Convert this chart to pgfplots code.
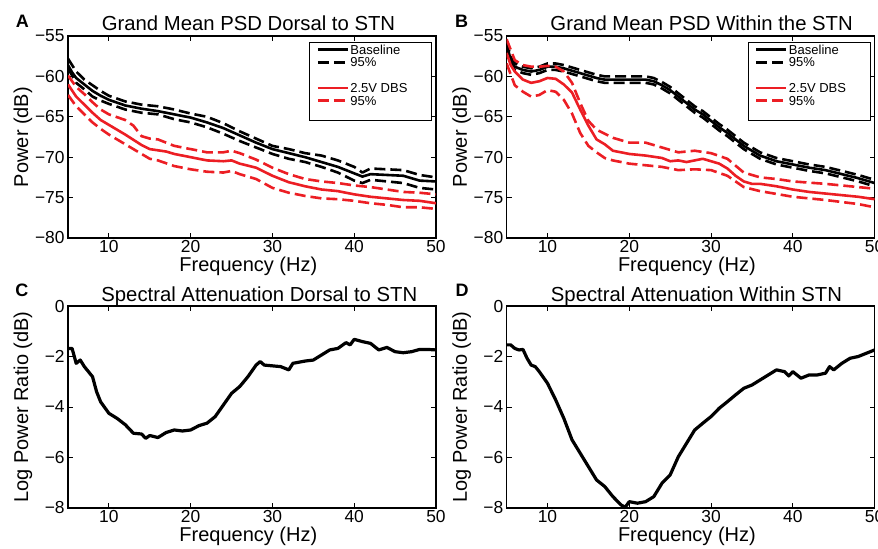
\documentclass[border=0pt]{standalone}
\usepackage{pgfplots}
\pgfplotsset{compat=1.18}
\usepackage{fontspec}
\setmainfont{Liberation Sans}
\definecolor{mred}{RGB}{236,30,36}
\pgfplotsset{
  base/.style={
    scale only axis, width=184pt, height=101pt,
    xmin=5, xmax=50, xtick={10,20,30,40,50},
    tick align=inside, major tick length=2.5pt,
    axis line style={line width=0.7pt},
    every tick/.style={black, line width=0.5pt},
    tick label style={font=\fontsize{8.7}{9}\selectfont},
    xticklabel style={inner sep=1pt},
    yticklabel style={inner sep=1.5pt},
    /pgf/number format/assume math mode=true,
    label style={font=\fontsize{10}{12}\selectfont},
    title style={font=\fontsize{10.15}{12}\selectfont},
    every axis title shift=0pt,
    xlabel={Frequency (Hz)},
    every axis x label/.style={at={(axis description cs:0.49,-0.1683)}, anchor=base},
    every axis y label/.style={at={(axis description cs:-0.1223,0.5)}, anchor=center, rotate=90},
  },
  psd/.style={base,
    ymin=-80, ymax=-55, ytick={-80,-75,-70,-65,-60,-55},
    yticklabels={−80,−75,−70,−65,−60,−55},
    ylabel={Power (dB)},
    legend cell align=left,
    legend image code/.code={\draw[##1, line width=1.3pt] (0pt,0pt) -- (15pt,0pt);},
    legend style={at={(axis description cs:1,1)}, anchor=north east, xshift=-2pt, yshift=-3pt,
      draw=black, fill=white, inner xsep=3.5pt, inner ysep=0.4pt,
      font=\fontsize{6.5}{6.5}\selectfont, row sep=0pt,
      nodes={inner sep=0.6pt, text height=4.9pt, text depth=0.3pt}},
  },
  att/.style={base,
    ymin=-8, ymax=0, ytick={-8,-6,-4,-2,0},
    yticklabels={−8,−6,−4,−2,0},
    ylabel={Log Power Ratio (dB)},
  },
  sol/.style={line width=1.3pt, line join=round},
  das/.style={line width=1.3pt, line join=round, dash pattern=on 5.5pt off 2.5pt},
}
\newcommand{\LE}[1]{\addlegendentry{\makebox[36.5pt][l]{#1}}}
\begin{document}
\begin{tikzpicture}
% ---------------- A ----------------
\begin{axis}[psd, at={(34pt,155.5pt)}, anchor=south west,
  title={Grand Mean PSD Dorsal to STN},
  title style={at={(axis description cs:0.4905,1.0248)}, anchor=base}]
\addplot[sol, black] coordinates {(5,-58.6)(5.5,-59.5)(6,-60.2)(7,-61.0)(8,-61.8)(9,-62.4)(10,-62.9)(12,-63.6)(14,-64.0)(16,-64.3)(18,-64.7)(20,-65.1)(22,-65.7)(24,-66.4)(26,-67.3)(28,-68.2)(30,-69.0)(32,-69.5)(34,-70.0)(36,-70.6)(38,-71.2)(40,-72.0)(41,-72.4)(42,-72.1)(44,-72.2)(46,-72.3)(48,-72.9)(50,-73.0)};
\LE{Baseline}
\addplot[das, black] coordinates {(5,-57.8)(6,-59.4)(7,-60.4)(8,-61.1)(9,-61.8)(10,-62.4)(12,-63.1)(14,-63.5)(16,-63.7)(18,-64.1)(20,-64.6)(22,-65.0)(24,-65.8)(26,-66.8)(28,-67.7)(30,-68.6)(32,-69.0)(34,-69.5)(36,-69.8)(38,-70.4)(40,-71.2)(41,-71.9)(42,-71.4)(44,-71.5)(46,-71.6)(48,-72.2)(50,-72.5)};
\LE{95\%}
\addplot[das, black, forget plot] coordinates {(5,-59.0)(6,-60.8)(7,-61.6)(8,-62.5)(9,-63.0)(10,-63.4)(12,-64.1)(14,-64.5)(16,-64.7)(18,-65.3)(20,-65.7)(22,-66.3)(24,-67.1)(26,-68.0)(28,-68.8)(30,-69.6)(32,-70.2)(34,-70.6)(36,-71.2)(38,-71.9)(40,-72.9)(41,-73.2)(42,-72.8)(44,-73.0)(46,-73.2)(48,-73.8)(50,-74.0)};
\addlegendimage{empty legend}\addlegendentry{~}
\addplot[sol, mred] coordinates {(5,-61.0)(6,-62.5)(7,-63.5)(8,-64.5)(9,-65.4)(10,-66.0)(12,-67.2)(14,-68.5)(15,-69.0)(17,-69.3)(18,-69.6)(20,-70.0)(22,-70.4)(24,-70.5)(25,-70.4)(26,-70.8)(28,-71.3)(30,-72.3)(32,-73.1)(34,-73.6)(36,-74.0)(38,-74.2)(40,-74.6)(42,-74.9)(44,-75.1)(46,-75.3)(48,-75.4)(50,-75.7)};
\LE{2.5V DBS}
\addplot[das, mred] coordinates {(5,-59.9)(6,-61.3)(7,-62.2)(8,-63.2)(9,-64.1)(10,-64.7)(12,-65.4)(13,-66.1)(14,-67.4)(15,-67.7)(16,-67.8)(18,-68.6)(20,-69.0)(22,-69.4)(24,-69.4)(25,-69.2)(26,-69.5)(28,-70.3)(30,-71.3)(32,-72.1)(34,-72.7)(36,-73.0)(38,-73.2)(40,-73.5)(42,-73.7)(44,-74.0)(46,-74.3)(48,-74.4)(50,-74.6)};
\LE{95\%}
\addplot[das, mred, forget plot] coordinates {(5,-62.3)(6,-63.7)(7,-64.7)(8,-65.7)(9,-66.5)(10,-67.2)(12,-68.4)(14,-69.6)(15,-70.2)(16,-70.4)(18,-71.1)(20,-71.5)(22,-71.8)(24,-71.9)(25,-71.7)(26,-72.1)(28,-72.7)(30,-73.8)(32,-74.4)(34,-74.8)(36,-75.1)(38,-75.2)(40,-75.4)(42,-75.7)(44,-75.9)(46,-76.2)(48,-76.2)(50,-76.4)};
\addplot[white] coordinates {(30,-90)};
\addlegendentry{~}
\end{axis}
% ---------------- B ----------------
\begin{axis}[psd, at={(253.3pt,155.5pt)}, anchor=south west,
  title={Grand Mean PSD Within the STN},
  title style={at={(axis description cs:0.530,1.0248)}, anchor=base}]
\addplot[sol, black] coordinates {(5,-55.9)(5.5,-58.0)(6,-58.8)(7,-59.2)(8,-59.4)(9,-59.2)(10,-58.8)(11,-58.8)(12,-59.0)(13,-59.3)(14,-59.6)(15,-59.9)(16,-60.2)(17,-60.4)(18,-60.4)(20,-60.4)(22,-60.4)(23,-60.6)(24,-61.1)(25,-61.7)(26,-62.5)(27,-63.3)(28,-64.1)(29,-64.7)(30,-65.5)(31,-66.3)(32,-67.0)(33,-67.8)(34,-68.6)(35,-69.2)(36,-69.8)(38,-70.5)(40,-70.9)(42,-71.3)(44,-71.6)(46,-72.1)(48,-72.6)(50,-73.2)};
\LE{Baseline}
\addplot[das, black] coordinates {(5,-55.6)(5.5,-57.6)(6,-58.4)(7,-58.8)(8,-59.0)(9,-58.8)(10,-58.4)(11,-58.4)(12,-58.6)(13,-58.9)(14,-59.2)(15,-59.5)(16,-59.8)(17,-60.0)(18,-60.0)(20,-60.0)(22,-60.0)(23,-60.2)(24,-60.7)(25,-61.3)(26,-62.1)(27,-62.9)(28,-63.7)(29,-64.3)(30,-65.1)(31,-65.9)(32,-66.6)(33,-67.4)(34,-68.2)(35,-68.8)(36,-69.4)(38,-70.1)(40,-70.5)(42,-70.9)(44,-71.2)(46,-71.7)(48,-72.2)(50,-72.8)};
\LE{95\%}
\addplot[das, black, forget plot] coordinates {(5,-56.2)(5.5,-58.4)(6,-59.2)(7,-59.6)(8,-59.8)(9,-59.6)(10,-59.2)(11,-59.2)(12,-59.4)(13,-59.7)(14,-60.0)(15,-60.3)(16,-60.6)(17,-60.8)(18,-60.8)(20,-60.8)(22,-60.8)(23,-61.0)(24,-61.5)(25,-62.1)(26,-62.9)(27,-63.7)(28,-64.5)(29,-65.1)(30,-65.9)(31,-66.7)(32,-67.4)(33,-68.2)(34,-69.0)(35,-69.6)(36,-70.2)(38,-70.9)(40,-71.3)(42,-71.7)(44,-72.0)(46,-72.5)(48,-73.0)(50,-73.6)};
\addlegendimage{empty legend}\addlegendentry{~}
\addplot[sol, mred] coordinates {(5,-57.1)(5.5,-58.6)(6,-59.4)(7,-60.4)(8,-60.8)(9,-60.6)(10,-60.2)(11,-60.3)(12,-61.0)(13,-62.0)(14,-64.1)(15,-66.1)(16,-67.8)(17,-68.4)(18,-69.2)(20,-69.6)(22,-69.8)(24,-70.1)(25,-70.5)(26,-70.4)(27,-70.6)(28,-70.4)(29,-70.2)(30,-70.5)(31,-70.8)(32,-71.4)(33,-72.3)(34,-73.0)(35,-73.3)(36,-73.3)(38,-73.6)(40,-74.0)(42,-74.3)(44,-74.5)(46,-74.7)(48,-74.9)(50,-75.2)};
\LE{2.5V DBS}
\addplot[das, mred] coordinates {(5,-55.4)(6,-58.0)(7,-58.6)(8,-58.8)(9,-58.8)(10,-58.7)(11,-58.8)(12,-59.4)(13,-60.8)(14,-63.3)(15,-65.5)(16,-66.6)(17,-67.1)(18,-67.6)(20,-68.2)(22,-68.2)(24,-68.8)(26,-69.4)(28,-69.2)(30,-69.5)(32,-70.2)(34,-71.9)(36,-72.5)(38,-72.7)(40,-73.0)(44,-73.3)(48,-73.7)(50,-73.9)};
\LE{95\%}
\addplot[das, mred, forget plot] coordinates {(5,-58.4)(6,-61.1)(7,-61.9)(8,-62.5)(9,-62.3)(10,-61.7)(11,-61.9)(12,-62.9)(13,-64.6)(14,-67.0)(15,-68.6)(16,-69.4)(17,-70.1)(18,-70.4)(20,-70.8)(22,-71.0)(24,-71.2)(26,-71.6)(28,-71.5)(30,-71.6)(32,-72.3)(34,-73.7)(36,-74.2)(40,-74.9)(44,-75.3)(48,-75.8)(50,-76.2)};
\addplot[white] coordinates {(30,-90)};
\addlegendentry{~}
\end{axis}
% ---------------- C ----------------
\begin{axis}[att, at={(34pt,20.5pt)}, anchor=south west,
  title={Spectral Attenuation Dorsal to STN},
  title style={at={(axis description cs:0.520,1.0248)}, anchor=base}]
\addplot[line width=1.6pt, line join=round, black] coordinates {(5,-1.68)(5.5,-1.68)(6,-2.27)(6.5,-2.14)(7,-2.4)(8,-2.8)(8.5,-3.4)(9,-3.8)(10,-4.25)(11,-4.45)(12,-4.7)(13,-5.04)(14,-5.07)(14.5,-5.24)(15,-5.13)(16,-5.21)(17,-5.01)(18,-4.91)(19,-4.95)(20,-4.91)(21,-4.74)(22,-4.64)(23,-4.38)(24,-3.92)(25,-3.46)(26,-3.19)(27,-2.8)(28,-2.34)(28.5,-2.2)(29,-2.34)(30,-2.37)(31,-2.4)(32,-2.53)(32.5,-2.27)(34,-2.18)(35,-2.14)(36,-1.94)(37,-1.74)(38,-1.68)(39,-1.45)(39.5,-1.54)(40,-1.32)(41,-1.41)(42,-1.48)(43,-1.74)(44,-1.64)(45,-1.81)(46,-1.85)(47,-1.81)(48,-1.72)(49,-1.72)(50,-1.74)};
\end{axis}
% ---------------- D ----------------
\begin{axis}[att, at={(253.3pt,20.5pt)}, anchor=south west,
  title={Spectral Attenuation Within STN},
  title style={at={(axis description cs:0.516,1.0248)}, anchor=base}]
\addplot[line width=1.6pt, line join=round, black] coordinates {(5,-1.54)(5.5,-1.54)(6,-1.68)(6.5,-1.74)(7,-1.72)(7.5,-2.07)(8,-2.34)(8.5,-2.4)(9,-2.6)(10,-3.06)(11,-3.72)(12,-4.45)(13,-5.3)(14,-5.83)(15,-6.36)(16,-6.89)(17,-7.15)(18,-7.55)(19,-7.88)(19.5,-7.97)(20,-7.75)(21,-7.81)(22,-7.75)(23,-7.55)(24,-7.02)(25,-6.69)(26,-5.97)(27,-5.44)(28,-4.91)(29,-4.64)(30,-4.38)(31,-4.05)(32,-3.79)(33,-3.52)(34,-3.26)(35,-3.13)(36,-2.93)(37,-2.73)(38,-2.53)(39,-2.6)(39.5,-2.77)(40,-2.6)(41,-2.86)(42,-2.73)(43,-2.73)(44,-2.66)(44.5,-2.4)(45,-2.53)(46,-2.27)(47,-2.07)(48,-2.0)(49,-1.87)(50,-1.74)};
\end{axis}
% panel letters
\node[font=\bfseries\fontsize{9}{10}\selectfont] at (11.25pt,263.75pt) {A};
\node[font=\bfseries\fontsize{9}{10}\selectfont] at (230.75pt,263.75pt) {B};
\node[font=\bfseries\fontsize{9}{10}\selectfont] at (11pt,129.25pt) {C};
\node[font=\bfseries\fontsize{9}{10}\selectfont] at (231pt,129.25pt) {D};
\pgfresetboundingbox
\useasboundingbox (0,0) rectangle (439pt,274.5pt);
\end{tikzpicture}
\end{document}
